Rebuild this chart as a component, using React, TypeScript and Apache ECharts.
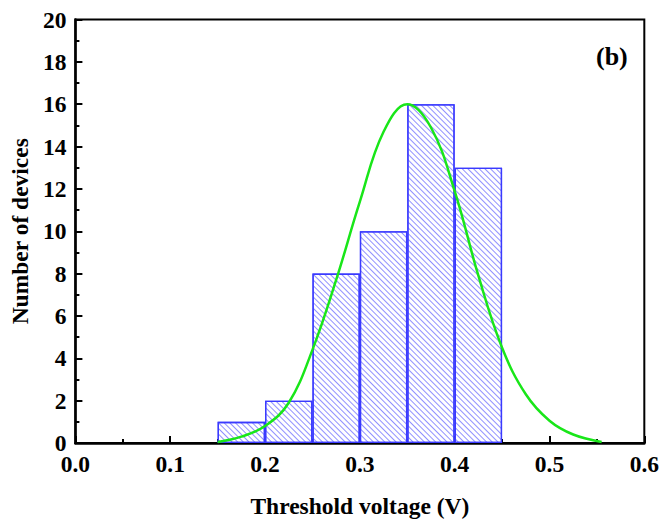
import React, { useEffect, useRef } from "react";
import * as echarts from "echarts";

const binLabels = ["0.00", "0.05", "0.10", "0.15", "0.20", "0.25", "0.30", "0.35", "0.40", "0.45", "0.50", "0.55"];
const binCounts: (number | string)[] = ["-", "-", "-", 1, 2, 8, 10, 16, 13, "-", "-", "-"];

const curveX = [0.15, 0.175, 0.2, 0.225, 0.25, 0.275, 0.3, 0.325, 0.35, 0.375, 0.4, 0.425, 0.45, 0.475, 0.5, 0.525, 0.555];
const curveY = [0.05, 0.3, 0.8, 1.9, 4.4, 7.7, 11.4, 14.7, 16.0, 14.9, 11.9, 7.9, 4.5, 2.3, 1.05, 0.4, 0.05];

const xTicks = { min: 0, max: 0.6, interval: 0.1 };
const yTicks = { min: 0, max: 20, interval: 2 };

const FONT = "'Liberation Serif', 'Times New Roman', serif";

export default function App() {
  const ref = useRef<HTMLDivElement>(null);
  useEffect(() => {
    if (!ref.current) return;
    const chart = echarts.init(ref.current, null, { renderer: "svg" });
    const labelStyle = { color: "#000", fontFamily: FONT, fontWeight: "bold" as const, fontSize: 23.5 };
    chart.setOption({
      animation: false,
      backgroundColor: "#fff",
      grid: {
        left: 73,
        top: 19.5,
        right: 17.5,
        bottom: 80,
        show: true,
        borderColor: "#000",
        borderWidth: 2,
        backgroundColor: "transparent",
      },
      xAxis: [
        {
          type: "value",
          min: xTicks.min,
          max: xTicks.max,
          interval: xTicks.interval,
          name: "Threshold voltage (V)",
          nameLocation: "middle",
          nameGap: 51,
          nameTextStyle: { ...labelStyle },
          axisLine: { show: true, lineStyle: { color: "#000", width: 2.5 } },
          axisTick: { show: true, inside: true, length: 7, lineStyle: { color: "#000", width: 2 } },
          minorTick: { show: true, splitNumber: 2, length: 4, lineStyle: { color: "#000", width: 2 } },
          splitLine: { show: false },
          axisLabel: { ...labelStyle, margin: 9, formatter: (v: number) => v.toFixed(1) },
        },
        {
          type: "category",
          data: binLabels,
          boundaryGap: true,
          show: false,
        },
      ],
      yAxis: {
        type: "value",
        min: yTicks.min,
        max: yTicks.max,
        interval: yTicks.interval,
        name: "Number of devices",
        nameLocation: "middle",
        nameGap: 43,
        nameTextStyle: { ...labelStyle },
        axisLine: { show: true, lineStyle: { color: "#000", width: 2.5 } },
        axisTick: { show: true, inside: true, length: 7, lineStyle: { color: "#000", width: 2 } },
        minorTick: { show: true, splitNumber: 2, length: 4, lineStyle: { color: "#000", width: 2 } },
        splitLine: { show: false },
        axisLabel: { ...labelStyle, margin: 9 },
      },
      graphic: [
        {
          type: "text",
          left: 596,
          top: 43,
          style: { text: "(b)", fill: "#000", font: `bold 26px ${FONT}` },
        },
      ],
      series: [
        {
          type: "bar",
          xAxisIndex: 1,
          yAxisIndex: 0,
          data: binCounts,
          barCategoryGap: "0%",
          itemStyle: {
            color: "#fff",
            borderColor: "#3a3aff",
            borderWidth: 1.3,
            decal: {
              symbol: "rect",
              symbolSize: 1,
              dashArrayX: [1, 0],
              dashArrayY: [1, 3],
              rotation: Math.PI / 4,
              color: "rgba(70,70,255,0.6)",
            },
          },
          silent: true,
        },
        {
          type: "line",
          xAxisIndex: 0,
          yAxisIndex: 0,
          data: curveX.map((x, i) => [x, curveY[i]]),
          smooth: 0.4,
          showSymbol: false,
          lineStyle: { color: "#19e619", width: 2.5 },
          z: 5,
        },
      ],
    });
    return () => chart.dispose();
  }, []);
  return <div ref={ref} style={{ position: "absolute", left: 0, top: 0, width: 662, height: 523 }} />;
}
